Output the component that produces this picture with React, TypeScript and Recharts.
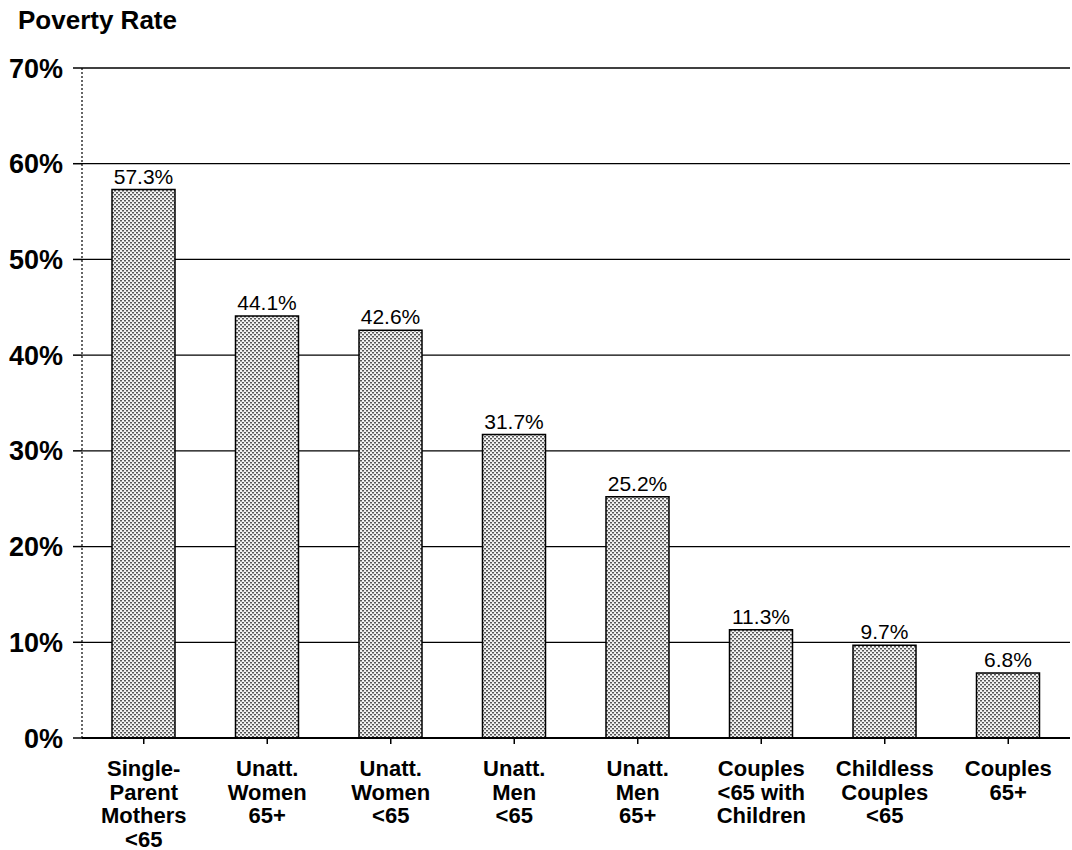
import React from "react";
import { BarChart, Bar, XAxis, YAxis, CartesianGrid, LabelList } from "recharts";

const categories = [
  "Single-\nParent\nMothers\n<65",
  "Unatt.\nWomen\n65+",
  "Unatt.\nWomen\n<65",
  "Unatt.\nMen\n<65",
  "Unatt.\nMen\n65+",
  "Couples\n<65 with\nChildren",
  "Childless\nCouples\n<65",
  "Couples\n65+",
];
const povertyRates = [57.3, 44.1, 42.6, 31.7, 25.2, 11.3, 9.7, 6.8];
const yTicks = [0, 10, 20, 30, 40, 50, 60, 70];

const data = categories.map((c, i) => ({ name: c, rate: povertyRates[i] }));

const FONT = "'Liberation Sans', Arial, Helvetica, sans-serif";

const XTick = (props: any) => {
  const { x, y, payload } = props;
  const lines = String(payload.value).split("\n");
  return (
    <text
      x={x}
      y={y}
      textAnchor="middle"
      fontFamily={FONT}
      fontSize={22}
      fontWeight="bold"
      fill="#000"
    >
      {lines.map((l, i) => (
        <tspan key={i} x={x} dy={i === 0 ? 32 : 23.5}>
          {l}
        </tspan>
      ))}
    </text>
  );
};

export default function App() {
  return (
    <div
      style={{
        position: "absolute",
        left: 0,
        top: 0,
        width: 1072,
        height: 850,
        background: "#fff",
        fontFamily: FONT,
      }}
    >
      <svg width={0} height={0} style={{ position: "absolute" }}>
        <defs>
          <pattern id="dots" width="4" height="4" patternUnits="userSpaceOnUse">
            <rect x="0" y="0" width="4" height="4" fill="#f2f2f2" />
            <rect x="0" y="0" width="2" height="1.5" fill="#555" />
            <rect x="2" y="2" width="2" height="1.5" fill="#555" />
          </pattern>
        </defs>
      </svg>
      <div
        style={{
          position: "absolute",
          left: 18,
          top: 5,
          fontSize: 26,
          lineHeight: "30px",
          fontWeight: "bold",
          color: "#000",
          fontFamily: FONT,
        }}
      >
        Poverty Rate
      </div>
      <BarChart
        width={1072}
        height={850}
        data={data}
        margin={{ top: 68, right: 2, bottom: 0, left: 0 }}
        barCategoryGap={0}
      >
        <CartesianGrid vertical={false} stroke="#000" strokeWidth={1.3} />
        <XAxis
          dataKey="name"
          interval={0}
          height={112}
          tick={<XTick />}
          tickSize={6}
          tickMargin={0}
          axisLine={{ stroke: "#000", strokeWidth: 2 }}
          tickLine={{ stroke: "#000", strokeWidth: 1.5 }}
        />
        <YAxis
          width={82}
          domain={[0, 70]}
          ticks={yTicks}
          interval={0}
          tickFormatter={(v: number) => `${v}%`}
          tickSize={9}
          tickMargin={10}
          axisLine={{ stroke: "#000", strokeWidth: 1.2, strokeDasharray: "2 2" }}
          tickLine={{ stroke: "#000", strokeWidth: 1.5 }}
          tick={{ fill: "#000", fontSize: 27, fontWeight: "bold", fontFamily: FONT }}
        />
        <Bar
          dataKey="rate"
          fill="url(#dots)"
          stroke="#000"
          strokeWidth={1.5}
          barSize={63}
          isAnimationActive={false}
        >
          <LabelList
            dataKey="rate"
            position="top"
            offset={6}
            formatter={(v: any) => `${Number(v).toFixed(1)}%`}
            style={{ fill: "#000", fontSize: 21, fontFamily: FONT }}
          />
        </Bar>
      </BarChart>
    </div>
  );
}
